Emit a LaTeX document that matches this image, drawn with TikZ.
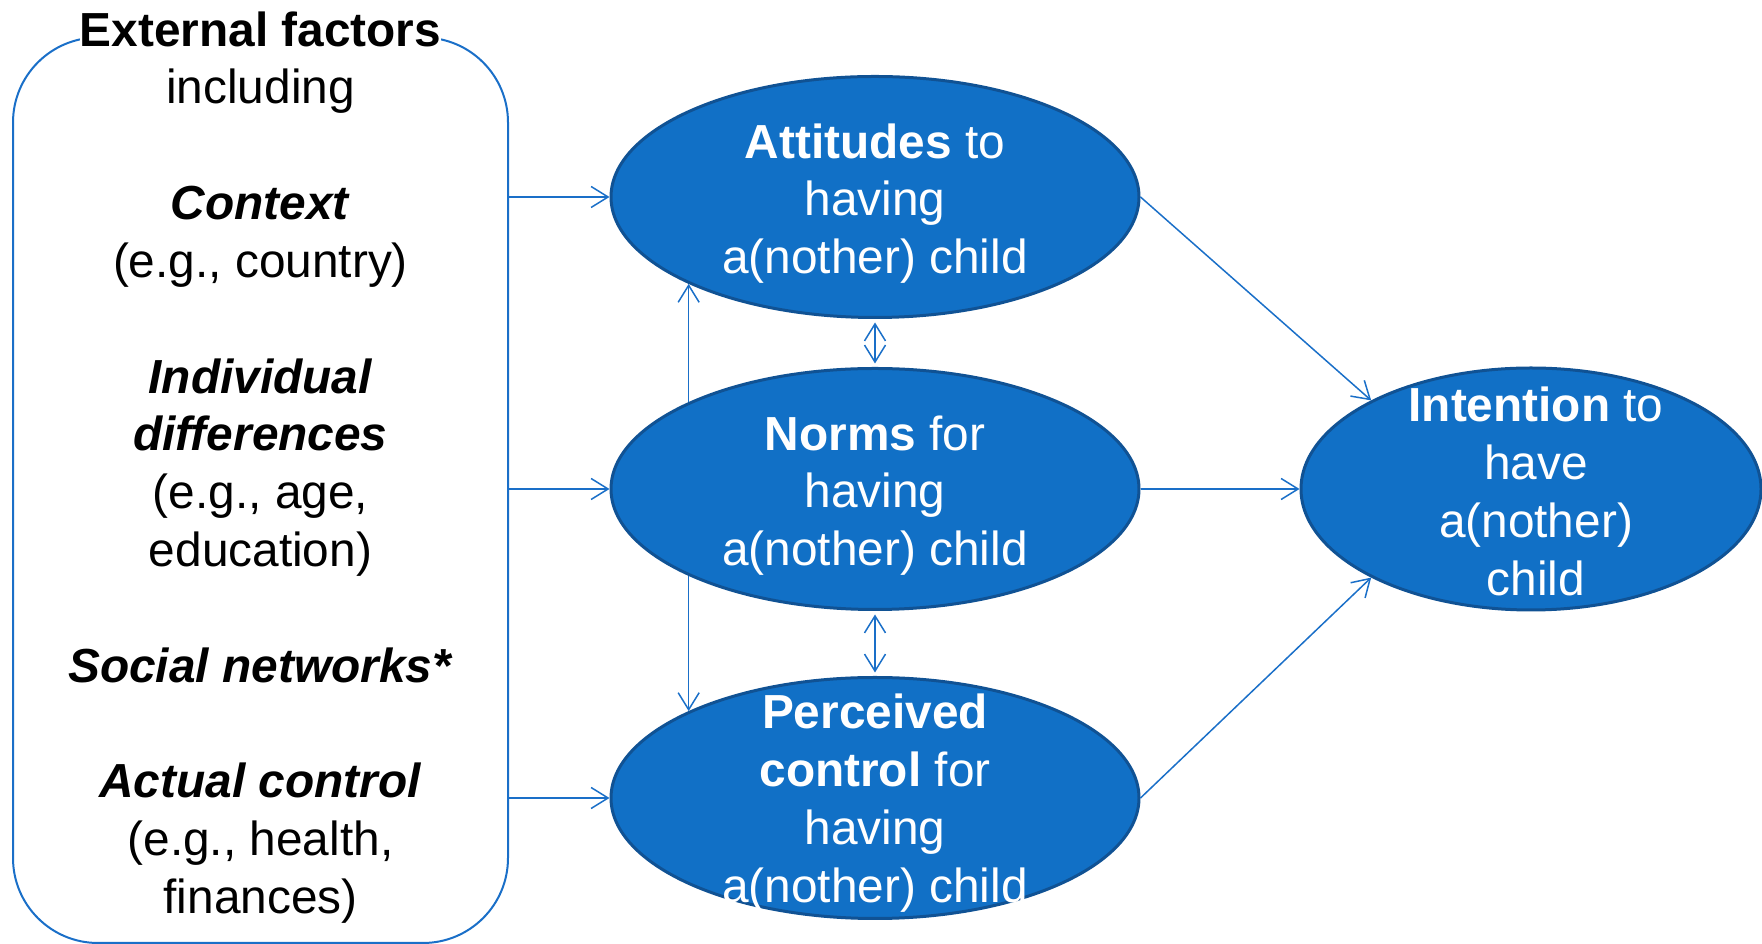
\documentclass[tikz,border=0pt]{standalone}
\usepackage{fontspec}
\setmainfont{Liberation Sans}
\usetikzlibrary{arrows.meta,shapes.geometric,positioning}
\definecolor{ovalblue}{RGB}{17,112,198}
\definecolor{ovaledge}{RGB}{16,82,148}
\definecolor{linkblue}{RGB}{26,111,200}
\tikzset{
    %Define standard arrow tip
    >={Straight Barb[length=3.4mm,width=4.2mm]},
    %Define style for the ovals
    construct/.style={
           ellipse,
           fill=ovalblue,
           draw=ovaledge, line width=0.06cm,
           minimum width=10.56cm,
           minimum height=4.82cm,
           inner sep=0pt},
    ovaltext/.style={
           text=white,
           align=center,
           font=\fontsize{27.2}{32.9}\selectfont},
    % Define arrow style
    pil/.style={
           ->,
           draw=linkblue,
           line width=0.03cm},
    both/.style={
           <->,
           draw=linkblue,
           line width=0.03cm,
           shorten <=0.07cm,
           shorten >=0.07cm}
}

\begin{document}
\begin{tikzpicture}[big/.style={font=\fontsize{27.2}{32.9}\selectfont}]
\useasboundingbox (0,0) rectangle (35.24,18.88);
% left box
\node[draw=linkblue, line width=0.04cm, rounded corners=1.7cm, minimum width=9.9cm, minimum height=18.11cm](ext) at (5.21,9.075){};
\node[big, fill=white, inner sep=0pt, anchor=base](title) at (5.21,17.94){\textbf{External factors}};
\node[big, align=center, inner sep=0pt, anchor=north](list) at (5.21,17.50){including\\[32.9pt]
	\textbf{\textit{Context}}\\ (e.g., country)\\[32.9pt]
	\textbf{\textit{Individual}}\\ \textbf{\textit{differences}}\\ (e.g., age,\\ education)\\[32.9pt]
	\textbf{\textit{Social networks*}}\\[32.9pt]
	\textbf{\textit{Actual control}}\\ (e.g., health,\\ finances)};
% ovals
\node[construct, label={[ovaltext,yshift=-0.13cm]center:{\textbf{Attitudes} to\\having\\a(nother) child}}](att) at (17.5,14.94){};
\node[construct, label={[ovaltext,yshift=-0.13cm]center:{\textbf{Norms} for\\having\\a(nother) child}}](norms) at (17.5,9.10){};
\node[construct, label={[ovaltext,yshift=-0.1cm]center:{\textbf{Perceived}\\\textbf{control} for\\having\\a(nother) child}}](perc) at (17.5,2.92){};
\node[construct, minimum width=9.2cm, minimum height=4.84cm, label={[ovaltext,yshift=-0.05cm,xshift=0.1cm]center:{\textbf{Intention} to\\have\\a(nother)\\child}}](int) at (30.62,9.10){};
% links
\draw[pil] (ext.east |- att.west) -- (att.west);
\draw[pil] (ext.east |- norms.west) -- (norms.west);
\draw[pil] (ext.east |- perc.west) -- (perc.west);
\draw[pil] (norms.155) -- (norms.155 |- att.205);
\draw[pil] (norms.205) -- (norms.205 |- perc.155);
\draw[both] (att.south) -- (norms.north);
\draw[both] (norms.south) -- (perc.north);
\draw[pil] (att.east) -- (int.151);
\draw[pil] (norms.east) -- (int.west);
\draw[pil] (perc.east) -- (int.209);
\end{tikzpicture}
\end{document}
